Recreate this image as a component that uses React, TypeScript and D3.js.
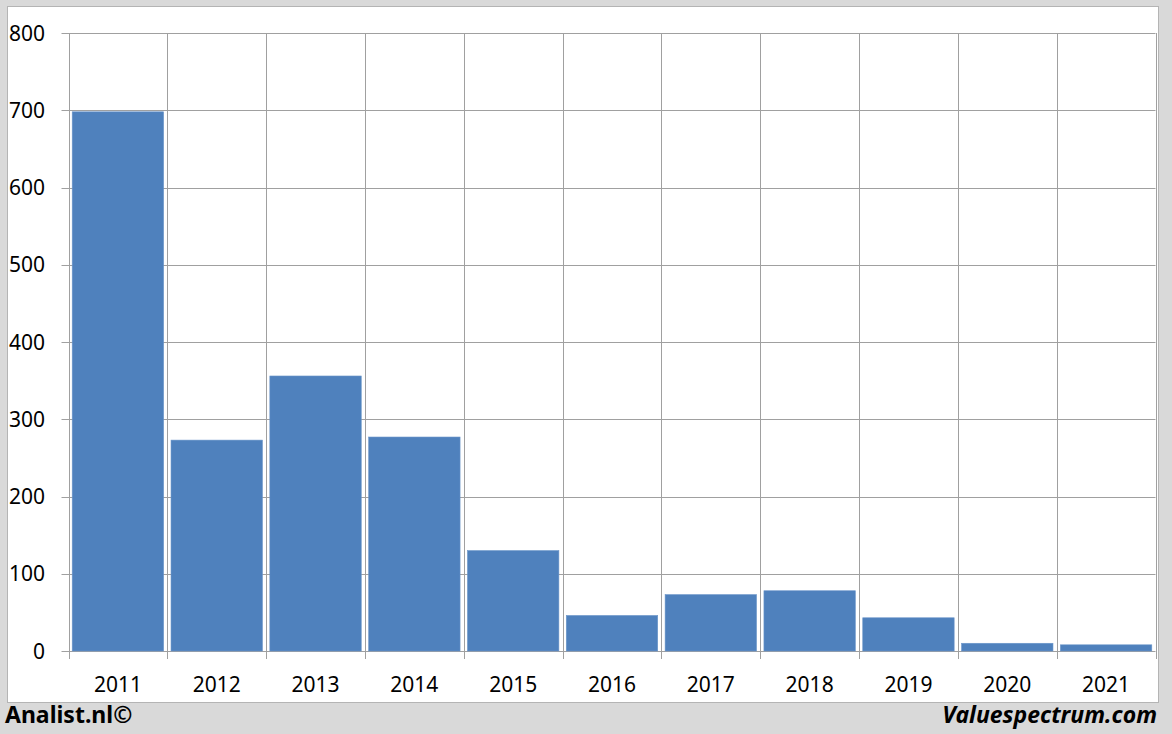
import React, { useEffect, useRef } from 'react';
import * as d3 from 'd3';

// Chart data
const years: string[] = ['2011', '2012', '2013', '2014', '2015', '2016', '2017', '2018', '2019', '2020', '2021'];
const values: number[] = [698, 273, 356, 277, 130, 46, 73, 78, 43, 10, 8];
const yTicks: number[] = [0, 100, 200, 300, 400, 500, 600, 700, 800];

const App: React.FC = () => {
  const svgRef = useRef<SVGSVGElement>(null);

  useEffect(() => {
    document.body.style.margin = '0';
    if (!svgRef.current) return;

    const svg = d3.select(svgRef.current);
    svg.selectAll('*').remove();

    const width = 1172;
    const height = 734;
    const plot = { left: 68.5, right: 1155.5, top: 33, bottom: 651 };
    const gridColor = '#a0a0a0';
    const font = '"Noto Sans", "Open Sans", sans-serif';

    svg.attr('width', width).attr('height', height);

    // Outer gray frame and white panel
    svg.append('rect')
      .attr('width', width)
      .attr('height', height)
      .style('fill', '#d9d9d9');

    svg.append('rect')
      .attr('x', 7.5)
      .attr('y', 6.5)
      .attr('width', 1151)
      .attr('height', 696)
      .style('fill', '#fff')
      .style('stroke', '#b4b4b4')
      .style('stroke-width', 1);

    const x = d3.scaleBand<string>()
      .domain(years)
      .range([plot.left, plot.right])
      .paddingInner(0.075)
      .paddingOuter(0.0375);

    const y = d3.scaleLinear()
      .domain([0, 800])
      .range([plot.bottom, plot.top]);

    const step = x.step();
    const boundaries = d3.range(years.length + 1).map(i => plot.left + i * step);

    // Horizontal grid lines (with small ticks on the left)
    svg.append('g')
      .selectAll('line')
      .data(yTicks)
      .enter().append('line')
      .attr('x1', plot.left - 7)
      .attr('x2', plot.right)
      .attr('y1', d => Math.round(y(d)) + 0.5)
      .attr('y2', d => Math.round(y(d)) + 0.5)
      .style('stroke', gridColor)
      .style('stroke-width', 1);

    // Vertical grid lines (extend below the axis as ticks)
    svg.append('g')
      .selectAll('line')
      .data(boundaries)
      .enter().append('line')
      .attr('x1', d => Math.round(d) + 0.5)
      .attr('x2', d => Math.round(d) + 0.5)
      .attr('y1', plot.top)
      .attr('y2', plot.bottom + 8)
      .style('stroke', gridColor)
      .style('stroke-width', 1);

    // Bars
    svg.append('g')
      .selectAll('rect')
      .data(values)
      .enter().append('rect')
      .attr('x', (_, i) => x(years[i]) as number)
      .attr('y', d => y(d))
      .attr('width', x.bandwidth())
      .attr('height', d => plot.bottom - y(d))
      .style('fill', '#4f81bd')
      .style('stroke', '#6b95c9')
      .style('stroke-width', 0.6);

    // Y axis labels
    svg.append('g')
      .selectAll('text')
      .data(yTicks)
      .enter().append('text')
      .attr('x', 45)
      .attr('y', d => y(d))
      .attr('dy', '0.36em')
      .attr('text-anchor', 'end')
      .style('font-family', font)
      .style('font-size', '21px')
      .style('fill', '#000')
      .text(d => d);

    // X axis labels
    svg.append('g')
      .selectAll('text')
      .data(years)
      .enter().append('text')
      .attr('x', d => (x(d) as number) + x.bandwidth() / 2)
      .attr('y', 692)
      .attr('text-anchor', 'middle')
      .style('font-family', font)
      .style('font-size', '21px')
      .style('fill', '#000')
      .text(d => d);

    // Footer credits
    svg.append('text')
      .attr('x', 5)
      .attr('y', 723)
      .style('font-family', font)
      .style('font-size', '23px')
      .style('font-weight', 'bold')
      .style('fill', '#000')
      .text('Analist.nl©');

    svg.append('text')
      .attr('x', 1157)
      .attr('y', 723)
      .attr('text-anchor', 'end')
      .style('font-family', font)
      .style('font-size', '23px')
      .style('font-weight', 'bold')
      .style('font-style', 'italic')
      .style('fill', '#000')
      .text('Valuespectrum.com');
  }, []);

  return (
    <div>
      <svg ref={svgRef} style={{ display: 'block' }}></svg>
    </div>
  );
};

export default App;
